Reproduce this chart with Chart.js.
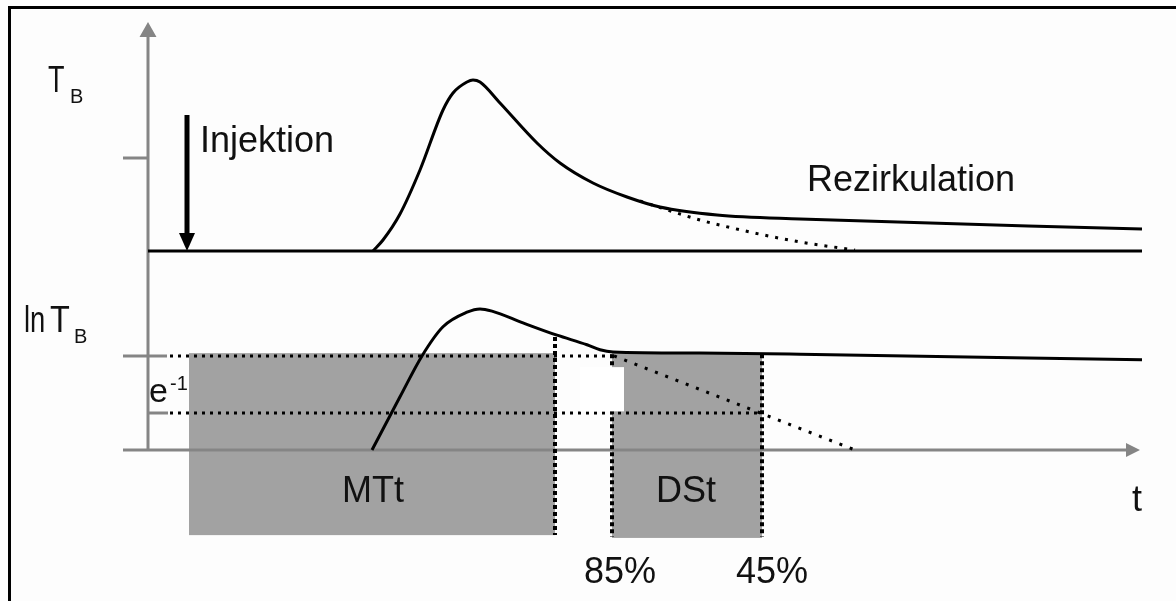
<!DOCTYPE html>
<html>
<head>
<meta charset="utf-8">
<script src="https://cdn.jsdelivr.net/npm/chart.js@4.4.0/dist/chart.umd.min.js"></script>
<style>
  html, body { margin: 0; padding: 0; background: #fdfdfd; }
  #wrap { position: relative; width: 1176px; height: 601px; overflow: hidden; }
  #frame { position: absolute; left: 8px; top: 6px; right: -10px; bottom: -10px;
           border-left: 3px solid #000; border-top: 3px solid #000; }
  canvas { position: absolute; left: 0; top: 0; }
</style>
</head>
<body>
<div id="wrap"><div id="frame"></div><canvas id="chart" width="1176" height="601"></canvas></div>
<script>
// ── Data ──────────────────────────────────────────────────────────────────────
// upper panel: T_B over time t
const upperT      = [22.5, 23.5, 25.2, 27.2, 29.5, 30.5, 31.9, 32.5, 33.2, 35.2, 38.9, 41.2, 44.5, 47.9, 51.2, 56.9, 65.2, 99.4];
const upperVal    = [0, 5.5, 18.5, 40.5, 70.5, 79, 84.5, 85.5, 84.5, 74, 54, 44, 34, 27, 22, 18, 16, 11];
const upperFitT   = [49.2, 55.2, 60.2, 65.2, 70.7];
const upperFitVal = [25, 15.5, 9.5, 4.5, 0.5];
const baseT       = [0, 99.4];

// lower panel: ln T_B over time t
const lowerT      = [22.4, 25.2, 27.4, 29.5, 31.9, 33.2, 34.4, 37.5, 40.9, 43.9, 45.2, 46.5, 55.2, 65.2, 99.4];
const lowerVal    = [0, 0.95, 1.68, 2.2, 2.46, 2.52, 2.48, 2.27, 2.05, 1.88, 1.79, 1.75, 1.73, 1.71, 1.61];
const lowerFitT   = [46.6, 70.7];
const lowerFitVal = [1.68, 0];

// levels (ln) and time marks
const levelHigh   = 1.68;            // 85 % level
const levelLow    = 0.66;            // levelHigh - 1  (e^-1)
const levelStartT = 2.2;
const levelEndT   = [46.4, 61.4];    // high / low line end
const markT       = [40.7, 46.4, 61.4];
const markTop     = [2.02, 1.71, 1.71];
const markBottom  = [-1.52, -1.55, -1.55];

// shaded intervals [t0, t1, lnTop, lnBottom]
const mttBox   = [4.1, 40.7, 1.73, -1.52];
const dstBox   = [46.4, 61.4, 1.73, -1.57];
const notchBox = [43.2, 47.6, 1.48, 0.69];

// injection marker (upper panel)
const injT = 3.9, injFrom = 68, injTo = 0;
const upperTick = 46.5;
const axisTopT = 114.5, axisEndT = 99.2;

// labels: [text, t, value, axis, size, widthScale]
const labels = [
  ["T", -10.0, 79.5, "yT", 36, 0.75], ["B", -7.8, 74, "yT", 20, 1],
  ["Injektion", 5.2, 49.7, "yT", 36, 1],
  ["Rezirkulation", 65.9, 30.2, "yT", 36, 1],
  ["ln", -12.4, 2.11, "yL", 36, 0.76], ["T", -9.8, 2.11, "yL", 36, 0.9], ["B", -7.4, 1.91, "yL", 20, 1],
  ["e", 0.1, 0.86, "yL", 34, 1], ["-1", 2.2, 1.07, "yL", 20, 1],
  ["MTt", 19.4, -0.93, "yL", 36, 1],
  ["DSt", 50.8, -0.93, "yL", 36, 1],
  ["85%", 43.6, -2.37, "yL", 36, 1],
  ["45%", 58.8, -2.37, "yL", 36, 1],
  ["t", 98.4, -1.09, "yL", 36, 1],
];

// ── Helpers ───────────────────────────────────────────────────────────────────
const pts = (xs, ys) => xs.map((x, i) => ({ x, y: ys[i] }));
const FONT = '"Liberation Sans", Arial, sans-serif';
const AXIS = "#858585";

function line(data, axis, opts) {
  return Object.assign({
    data, yAxisID: axis, showLine: true, pointRadius: 0,
    borderColor: "#000", borderWidth: 3, tension: 0, fill: false,
  }, opts || {});
}

// ── Plugin: boxes, axes, arrow, notch, labels ─────────────────────────────────
const schematic = {
  id: "schematic",
  beforeDatasetsDraw(chart) {
    const { ctx, scales: { x, yT, yL } } = chart;
    ctx.save();
    ctx.fillStyle = "#a2a2a2";
    [mttBox, dstBox].forEach(b => {
      const x0 = x.getPixelForValue(b[0]), x1 = x.getPixelForValue(b[1]);
      const y0 = yL.getPixelForValue(b[2]), y1 = yL.getPixelForValue(b[3]);
      ctx.fillRect(x0, y0, x1 - x0, y1 - y0);
    });

    // axes
    const ox = x.getPixelForValue(0);
    const top = yT.getPixelForValue(axisTopT);
    const base = yL.getPixelForValue(0);
    const tip = x.getPixelForValue(axisEndT);
    ctx.strokeStyle = AXIS; ctx.fillStyle = AXIS; ctx.lineWidth = 3;
    ctx.beginPath();
    ctx.moveTo(ox, base); ctx.lineTo(ox, top + 12);
    ctx.moveTo(x.getPixelForValue(-2.5), base); ctx.lineTo(tip - 12, base);
    // ticks
    const tk = yT.getPixelForValue(upperTick);
    ctx.moveTo(x.getPixelForValue(-2.5), tk); ctx.lineTo(ox, tk);
    const hi = yL.getPixelForValue(levelHigh), lo = yL.getPixelForValue(levelLow);
    ctx.moveTo(x.getPixelForValue(-2.5), hi); ctx.lineTo(x.getPixelForValue(1.9), hi);
    ctx.moveTo(ox, lo); ctx.lineTo(x.getPixelForValue(2.0), lo);
    ctx.stroke();
    ctx.beginPath();
    ctx.moveTo(ox, top); ctx.lineTo(ox - 8.5, top + 15); ctx.lineTo(ox + 8.5, top + 15); ctx.closePath();
    ctx.moveTo(tip, base); ctx.lineTo(tip - 14, base - 7); ctx.lineTo(tip - 14, base + 7); ctx.closePath();
    ctx.fill();
    ctx.restore();
  },
  afterDatasetsDraw(chart) {
    const { ctx, scales: { x, yT, yL } } = chart;
    ctx.save();
    // notch
    ctx.fillStyle = "#ffffff";
    const nx0 = x.getPixelForValue(notchBox[0]), nx1 = x.getPixelForValue(notchBox[1]);
    const ny0 = yL.getPixelForValue(notchBox[2]), ny1 = yL.getPixelForValue(notchBox[3]);
    ctx.fillRect(nx0, ny0, nx1 - nx0, ny1 - ny0);

    // injection arrow
    const ix = x.getPixelForValue(injT);
    const iy0 = yT.getPixelForValue(injFrom), iy1 = yT.getPixelForValue(injTo);
    ctx.fillStyle = "#000";
    ctx.fillRect(ix - 2.5, iy0, 5, iy1 - iy0 - 16);
    ctx.beginPath();
    ctx.moveTo(ix, iy1); ctx.lineTo(ix - 8, iy1 - 18); ctx.lineTo(ix + 8, iy1 - 18); ctx.closePath();
    ctx.fill();

    // labels
    ctx.fillStyle = "#111";
    ctx.textBaseline = "alphabetic";
    ctx.textAlign = "left";
    labels.forEach(([txt, t, v, axis, size, sw]) => {
      ctx.save();
      ctx.font = size + "px " + FONT;
      ctx.translate(x.getPixelForValue(t), chart.scales[axis].getPixelForValue(v));
      ctx.scale(sw, 1);
      ctx.fillText(txt, 0, 0);
      ctx.restore();
    });
    ctx.restore();
  },
};

// ── Chart ─────────────────────────────────────────────────────────────────────
new Chart(document.getElementById("chart").getContext("2d"), {
  type: "scatter",
  data: {
    datasets: [
      line(pts(upperT, upperVal), "yT", { cubicInterpolationMode: "monotone" }),
      line(pts(baseT, [0, 0]), "yT"),
      line(pts(upperFitT, upperFitVal), "yT", { cubicInterpolationMode: "monotone", borderDash: [3, 7] }),
      line(pts(lowerT, lowerVal), "yL", { cubicInterpolationMode: "monotone" }),
      line(pts(lowerFitT, lowerFitVal), "yL", { borderDash: [3, 8] }),
      line(pts([levelStartT, levelEndT[0]], [levelHigh, levelHigh]), "yL", { borderDash: [3, 5] }),
      line(pts([levelStartT, levelEndT[1]], [levelLow, levelLow]), "yL", { borderDash: [3, 5] }),
      ...markT.map((t, i) => line(pts([t, t], [markTop[i], markBottom[i]]), "yL", { borderWidth: 4, borderDash: [4, 3] })),
    ],
  },
  options: {
    responsive: false,
    animation: false,
    devicePixelRatio: 1,
    layout: { padding: 0 },
    plugins: { legend: { display: false }, tooltip: { enabled: false } },
    scales: {
      x:  { type: "linear", display: false, min: -14.8, max: 102.8 },
      yT: { type: "linear", display: false, min: -175, max: 125.5 },
      yL: { type: "linear", display: false, min: -151 / 56, max: 450 / 56 },
    },
  },
  plugins: [schematic],
});
</script>
</body>
</html>
